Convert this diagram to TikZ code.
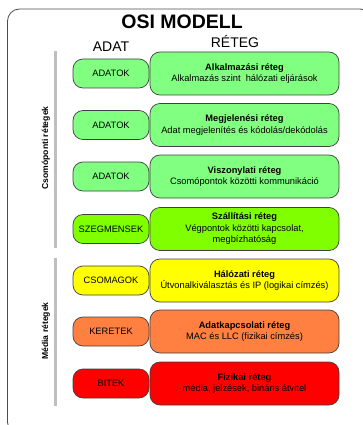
\documentclass[tikz,border=0pt]{standalone}
\usepackage{fontspec}
\setmainfont{Liberation Sans}
\usepackage{tikz}

\definecolor{lightgreen}{RGB}{128,255,128}
\definecolor{limegreen}{RGB}{128,255,0}
\definecolor{layeryellow}{RGB}{255,255,0}
\definecolor{layerorange}{RGB}{255,128,64}
\definecolor{layerred}{RGB}{255,0,0}

\begin{document}
\begin{tikzpicture}[x=1pt,y=-1pt,
    databox/.style={draw=black!75, line width=0.7pt, rounded corners=10pt,
      minimum width=76pt, minimum height=29pt, inner sep=0pt,
      font=\fontsize{9.3}{11.5}\selectfont},
    layerbox/.style={draw=black!75, line width=0.7pt, rounded corners=10pt,
      minimum width=189pt, minimum height=43pt, inner sep=0pt, align=center,
      font=\fontsize{9.3}{11.5}\selectfont},
    grouplabel/.style={rotate=90, font=\bfseries\fontsize{8.6}{10}\selectfont}]
      \useasboundingbox (0,0) rectangle (363,425);
      \clip (0,0) rectangle (363,425);
      \draw[black!70, line width=0.8pt, rounded corners=12pt] (7.5,9) rectangle (372,434);
      \node[anchor=base, font=\bfseries\fontsize{19.5}{22}\selectfont] (title) at (182,29) {OSI MODELL};
      \node[anchor=base, font=\fontsize{14}{16}\selectfont] (adat) at (111,52) {ADAT};
      \node[anchor=base, font=\fontsize{14}{16}\selectfont] (reteg) at (235,47.5) {RÉTEG};
      \draw[black!25, line width=3pt] (55,51) -- (55,248);
      \draw[black!25, line width=3pt] (55,258) -- (55,406);
      \node[grouplabel] (csomo) at (46,148) {Csomóponti rétegek};
      \node[grouplabel] (media) at (46,331) {Média rétegek};
      \foreach \y/\col/\data/\name/\desc [count=\i] in {
          73.5/lightgreen/ADATOK/Alkalmazási réteg/{Alkalmazás szint\ \ hálózati eljárások},
          125/lightgreen/ADATOK/Megjelenési réteg/{Adat megjelenítés és kódolás/dekódolás},
          176.5/lightgreen/ADATOK/Viszonylati réteg/{Csomópontok közötti kommunikáció},
          229/limegreen/SZEGMENSEK/Szállítási réteg/{Végpontok közötti kapcsolat,\\megbízhatóság},
          280.5/layeryellow/CSOMAGOK/Hálózati réteg/{Útvonalkiválasztás és IP (logikai címzés)},
          331.5/layerorange/KERETEK/Adatkapcsolati réteg/{MAC és LLC (fizikai címzés)},
          383.5/layerred/BITEK/Fizikai réteg/{média, jelzések, bináris átvitel}} {
        \node[layerbox, fill=\col] (layer\i) at (244.5,\y) {\textbf{\name}\\\desc};
        \node[databox, fill=\col] (data\i) at (111,\y) {\data};
      }
    \end{tikzpicture}
\end{document}
